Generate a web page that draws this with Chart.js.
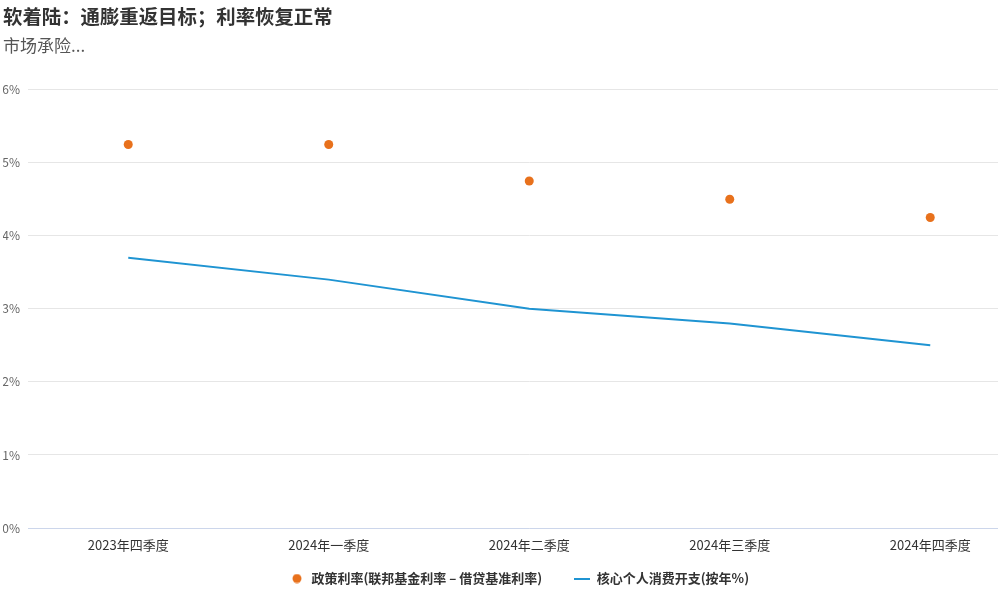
<!DOCTYPE html>
<html>
<head>
<meta charset="utf-8">
<script src="https://cdn.jsdelivr.net/npm/chart.js@4/dist/chart.umd.min.js"></script>
<style>
  html, body { margin: 0; padding: 0; background: #fff; overflow: hidden; }
  #wrap { position: relative; width: 1035px; height: 590px; }
</style>
</head>
<body>
<div id="wrap"><canvas id="chart"></canvas></div>
<script>
// 数据
const categories = ['2023年四季度', '2024年一季度', '2024年二季度', '2024年三季度', '2024年四季度'];
const policyRate = [5.25, 5.25, 4.75, 4.5, 4.25];
const corePce = [3.7, 3.4, 3.0, 2.8, 2.5];
const yTicks = [0, 1, 2, 3, 4, 5, 6];

const FONT = '"Noto Sans CJK SC", "Noto Sans", sans-serif';
const ORANGE = '#e8711c';
const BLUE = '#1f94d2';

// 图例符号（小画布）
function legendDot() {
  const c = document.createElement('canvas');
  c.width = 10; c.height = 10;
  const g = c.getContext('2d');
  g.fillStyle = ORANGE;
  g.beginPath(); g.arc(5, 5, 4.5, 0, Math.PI * 2); g.fill();
  return c;
}
function legendLine() {
  const c = document.createElement('canvas');
  c.width = 16; c.height = 2;
  const g = c.getContext('2d');
  g.fillStyle = BLUE;
  g.fillRect(0, 0, 16, 2);
  return c;
}
const legendIcons = [legendDot(), legendLine()];

const ctx = document.getElementById('chart').getContext('2d');
new Chart(ctx, {
  type: 'line',
  data: {
    labels: categories,
    datasets: [
      {
        label: '政策利率(联邦基金利率 – 借贷基准利率)',
        data: policyRate,
        showLine: false,
        pointStyle: 'circle',
        pointRadius: 4.5,
        backgroundColor: ORANGE,
        borderColor: ORANGE,
        borderWidth: 0
      },
      {
        label: '核心个人消费开支(按年%)',
        data: corePce,
        borderColor: BLUE,
        backgroundColor: BLUE,
        borderWidth: 2,
        pointRadius: 0,
        tension: 0
      }
    ]
  },
  options: {
    responsive: true,
    maintainAspectRatio: false,
    animation: false,
    events: [],
    layout: { padding: { left: 3, right: 0, top: 0, bottom: -5 } },
    plugins: {
      title: {
        display: true,
        text: '软着陆：通膨重返目标；利率恢复正常',
        align: 'start',
        color: '#333',
        font: { family: FONT, size: 19.4, weight: 'bold' },
        padding: { top: 5, bottom: 4 }
      },
      subtitle: {
        display: true,
        text: '市场承险...',
        align: 'start',
        color: '#555',
        font: { family: FONT, size: 17 },
        padding: { top: 3, bottom: 34 }
      },
      legend: {
        position: 'bottom',
        labels: {
          usePointStyle: true,
          boxHeight: 10,
          pointStyleWidth: 16,
          padding: 3,
          color: '#333',
          font: { family: FONT, size: 13, weight: 'bold' },
          generateLabels: chart => {
            const items = Chart.defaults.plugins.legend.labels.generateLabels(chart);
            items.forEach((it, i) => { it.pointStyle = legendIcons[i]; });
            // 两个图例项之间留出间距
            items[0].text += '\u3000\u3000 ';
            return items;
          }
        }
      },
      tooltip: { enabled: false }
    },
    scales: {
      x: {
        offset: true,
        afterFit: scale => { scale.height = 41; },
        grid: { display: false, drawTicks: false },
        border: { display: true, color: '#ccd6eb', width: 1 },
        ticks: {
          color: '#333',
          padding: 9,
          maxRotation: 0,
          font: { family: FONT, size: 13 }
        }
      },
      y: {
        min: 0,
        max: 6,
        afterBuildTicks: scale => { scale.ticks = yTicks.map(v => ({ value: v })); },
        afterFit: scale => { scale.width = 25; },
        grid: { color: '#e6e6e6', drawTicks: false },
        border: { display: false },
        ticks: {
          color: '#666',
          padding: 8,
          font: { family: FONT, size: 12 },
          callback: v => v + '%'
        }
      }
    }
  }
});
</script>
</body>
</html>
